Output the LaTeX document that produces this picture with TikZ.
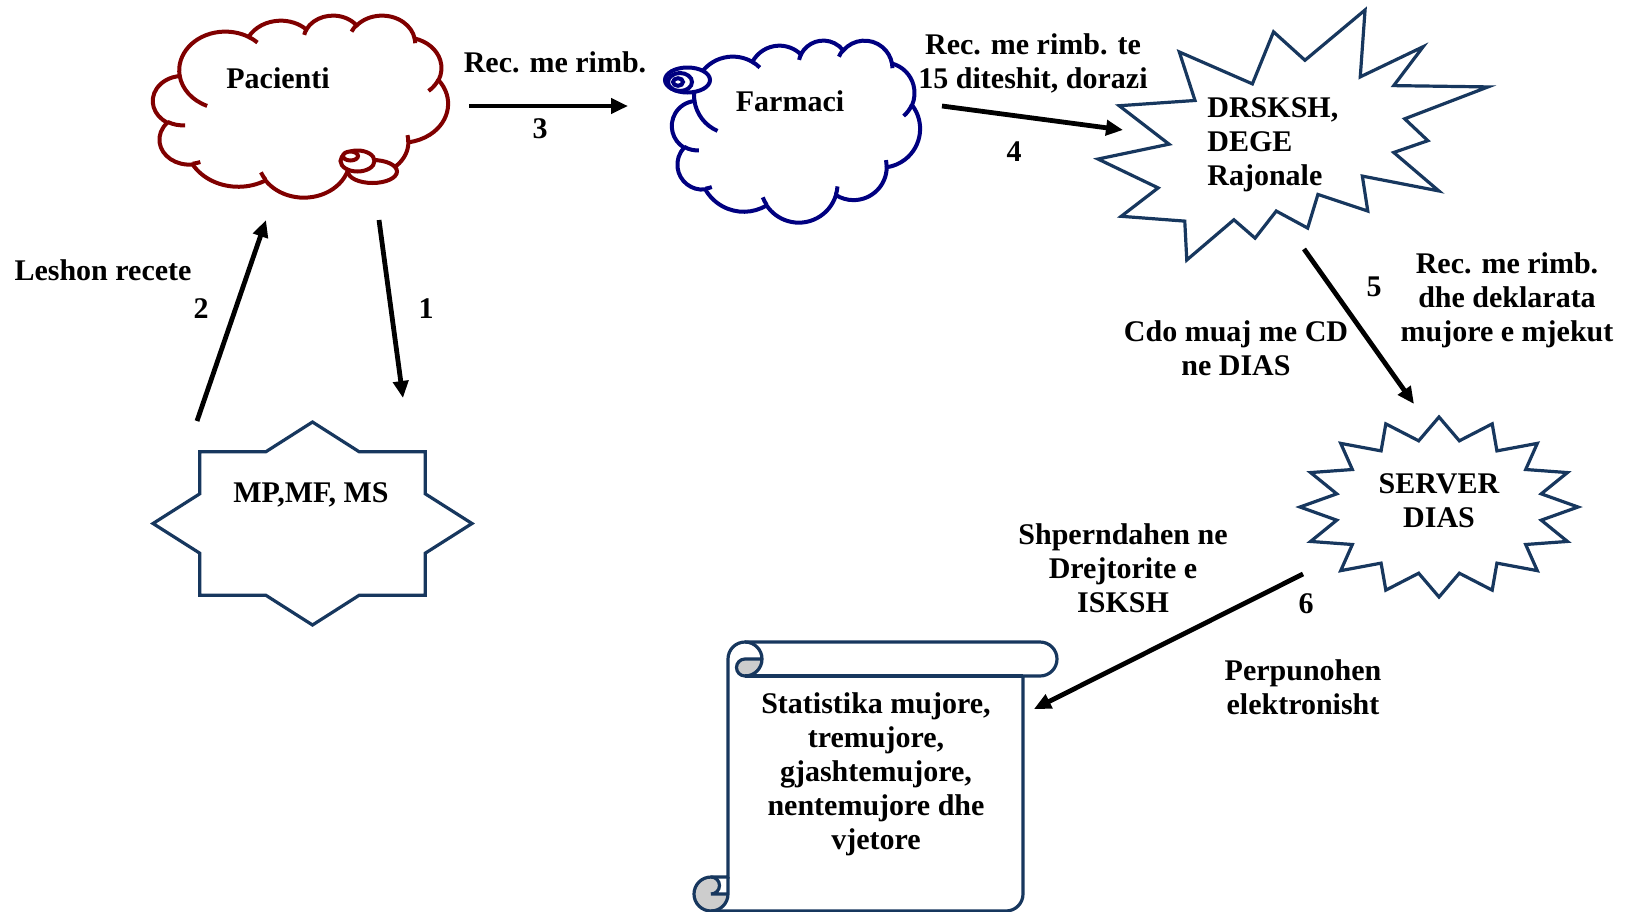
\documentclass[tikz,border=0pt]{standalone}
\usepackage{fontspec}
\setmainfont{Liberation Serif}
\usetikzlibrary{arrows.meta}

\definecolor{maroonline}{RGB}{128,0,0}
\definecolor{navyline}{RGB}{0,0,128}
\definecolor{shapeblue}{RGB}{23,55,94}
\definecolor{curlgray}{RGB}{205,205,205}

% elliptical arc given by radii, visual start angle and sweep (degrees), clockwise
\newcommand\oarc[4]{%
  \pgfextra{%
    \pgfmathsetmacro\oaS{atan2((#1)*sin(#3),(#2)*cos(#3))}%
    \pgfmathsetmacro\oaE{atan2((#1)*sin((#3)+(#4)),(#2)*cos((#3)+(#4)))}%
    \pgfmathsetmacro\oaD{Mod(\oaE-\oaS,360)}%
    \global\let\oaS\oaS\global\let\oaD\oaD}%
  arc[x radius=#1, y radius=#2, start angle=\oaS, delta angle=\oaD]}
% the same, counter-clockwise (#4 is the positive size of the sweep)
\newcommand\oarcback[4]{%
  \pgfextra{%
    \pgfmathsetmacro\oaS{atan2((#1)*sin(#3),(#2)*cos(#3))}%
    \pgfmathsetmacro\oaE{atan2((#1)*sin((#3)-(#4)),(#2)*cos((#3)-(#4)))}%
    \pgfmathsetmacro\oaD{-Mod(\oaS-\oaE,360)}%
    \global\let\oaS\oaS\global\let\oaD\oaD}%
  arc[x radius=#1, y radius=#2, start angle=\oaS, delta angle=\oaD]}

% cloud outline in a 432 x 432 box: #1,#2 top-left corner, #3,#4 units, #5 style
\newcommand\cloudshape[5]{%
  \begin{scope}[shift={(#1,#2)}]
  \begin{scope}[x=#3pt,y=-#4pt]
    \draw[#5,fill=white] (39,143.7)
      \oarc{67.53}{91.90}{-190.4875}{123.7805}
      \oarc{53.33}{72.67}{-144.1024}{89.9452}
      \oarc{43.65}{59.45}{-145.8079}{99.7230}
      \oarc{48.57}{65.95}{-130.9861}{117.2417}
      \oarc{53.33}{72.73}{-78.7089}{109.0269}
      \oarc{67.75}{92.20}{-46.2673}{130.2690}
      \oarc{57.85}{78.67}{0.6250}{114.0333}
      \oarc{67.52}{92.15}{22.4516}{115.1726}
      \oarc{77.20}{105.43}{66.2426}{75.7110}
      \oarc{43.60}{59.18}{-274.9421}{146.7356}
      \oarc{43.45}{59.45}{-246.8285}{152.5186}
      -- cycle;
    % short inner curls where the puffs meet
    \draw[#5]
      (46.93,261.77) \oarc{43.45}{59.45}{86.7420}{26.4295}
      (69.28,348.99) \oarc{43.60}{59.18}{73.6105}{11.4475}
      (164.78,390.90) \oarc{67.52}{92.15}{137.6242}{14.0811}
      (288.27,347.51) \oarc{67.52}{92.15}{6.4533}{15.9984}
      (372.7,285.05) \oarc{57.85}{78.67}{-15}{15.625}
      (417.98,153.54) \oarc{53.33}{72.73}{30.3180}{27.7515}
      (383.24,54.26) \oarc{48.57}{65.95}{-13.7443}{14.8589}
      (290.78,39.52) \oarc{48.57}{65.95}{-149.1815}{18.1954}
      (221.41,47.20) \oarc{43.65}{59.45}{-163.4943}{17.6864}
      (140.00,51.92) \oarc{67.53}{91.90}{-66.7070}{12.3194}
      (39,143.7) \oarcback{67.53}{91.90}{169.5125}{62};
  \end{scope}
  \end{scope}}

\begin{document}
\begin{tikzpicture}[x=0.5pt,y=-0.5pt,
  lbl/.style={font=\bfseries\fontsize{15pt}{17pt}\selectfont, inner sep=0pt},
  flow/.style={line width=2.4pt, -{Triangle[length=8.5pt,width=7.5pt]}},
  pacline/.style={draw=maroonline, line width=2pt},
  farline/.style={draw=navyline, line width=2pt},
  sealline/.style={draw=shapeblue, line width=1.6pt, fill=white, line join=miter},
  scrollline/.style={draw=shapeblue, line width=1.6pt},
]
\useasboundingbox (0,0) rectangle (1627,911);
\clip (0,0) rectangle (1627,911);

% ---------- Pacienti cloud with its bubbles
\cloudshape{153}{15}{0.341435}{0.210648}{pacline}
\draw[pacline,fill=white] (372.5,171.5) ellipse[x radius=24.5, y radius=11.5];
\draw[pacline,fill=white] (357.5,161) ellipse[x radius=17, y radius=10.5];
\draw[pacline,fill=white] (350.5,156) ellipse[x radius=7.5, y radius=4.5];

% ---------- Farmaci cloud with its bubbles
\cloudshape{672}{40}{0.287037}{0.210648}{farline}
\draw[farline,fill=white] (687.5,80) ellipse[x radius=22.5, y radius=12.5];
\draw[farline,fill=white] (680,82) ellipse[x radius=12, y radius=9];
\draw[farline,fill=white] (678,82) ellipse[x radius=5, y radius=3.8];

% ---------- explosion (DRSKSH)
\begin{scope}[shift={(1098,10)}]
\begin{scope}[x=0.902778pt,y=-0.578704pt]
\draw[sealline] (114.62,43.42) -- (147.90,0) -- (145.25,57.77) -- (180.07,31.72)
  -- (163.80,65.32) -- (216,66.45) -- (169.85,94.02) -- (182.70,112.90)
  -- (163.80,123.10) -- (188.77,156.32) -- (146.40,143.50) -- (149.42,173.70)
  -- (121.80,159.35) -- (116.12,188.42) -- (98.72,173.70) -- (87.00,197.12)
  -- (75.27,181.25) -- (49.17,216) -- (48.05,182.40) -- (12.85,178.25)
  -- (33.30,153.70) -- (0,128.77) -- (39.35,115.92) -- (11.72,82.70)
  -- (53.72,78.17) -- (45.02,36.25) -- (85.50,63.82) -- (97.22,18.87) -- cycle;
\end{scope}
\end{scope}

% ---------- eight-point star (MP, MF, MS)
\draw[sealline] plot[variable=\i, samples at={0,...,15}]
  ({312.5+159.5*(1-0.235*mod(\i,2))*cos(22.5*\i)},
   {523.5+101.5*(1-0.235*mod(\i,2))*sin(22.5*\i)}) -- cycle;

% ---------- sixteen-point star (SERVER DIAS)
\draw[sealline] plot[variable=\i, samples at={0,...,31}]
  ({1439+139*(1-0.25*mod(\i,2))*cos(11.25*\i)},
   {507+90*(1-0.25*mod(\i,2))*sin(11.25*\i)}) -- cycle;

% ---------- vertical scroll
\fill[white] (728,877) -- (728,659) arc[start angle=180, delta angle=90, radius=17]
  -- (1040,642) arc[start angle=270, delta angle=180, radius=17]
  -- (1023,676) -- (1023,894) arc[start angle=0, delta angle=90, radius=17]
  -- (711,911) arc[start angle=90, delta angle=180, radius=17] -- cycle;
\fill[curlgray] (762,659) arc[start angle=0, delta angle=90, radius=17]
  arc[start angle=90, delta angle=180, radius=8.5] -- cycle;
\fill[curlgray] (728,894) arc[start angle=0, delta angle=270, radius=17]
  arc[start angle=270, delta angle=180, radius=8.5] -- cycle;
\draw[scrollline] (728,877) -- (728,659) arc[start angle=180, delta angle=90, radius=17]
  -- (1040,642) arc[start angle=270, delta angle=180, radius=17]
  -- (1023,676) -- (1023,894) arc[start angle=0, delta angle=90, radius=17]
  -- (711,911) arc[start angle=90, delta angle=180, radius=17] -- cycle;
\draw[scrollline] (745,642) arc[start angle=270, delta angle=180, radius=17]
  arc[start angle=90, delta angle=180, radius=8.5] -- (762,659);
\draw[scrollline] (1023,676) -- (745,676);
\draw[scrollline] (711,877) arc[start angle=270, delta angle=180, radius=8.5] -- (728,894);
\draw[scrollline] (711,911) arc[start angle=90, delta angle=-90, radius=17] -- (728,877);

% ---------- texts inside the shapes
\node[lbl, anchor=base] (pac) at (278,88) {Pacienti};
\node[lbl, anchor=base] (far) at (790,111) {Farmaci};
\node[lbl, anchor=north west, align=left] (drs) at (1207,97) {DRSKSH,\\DEGE\\Rajonale};
\node[lbl, anchor=base] (mp) at (311,502) {MP,MF, MS};
\node[lbl, anchor=north, align=center] (srv) at (1439,473) {SERVER\\DIAS};
\node[lbl, anchor=north, align=center] (stat) at (876,692)
  {Statistika mujore,\\tremujore,\\gjashtemujore,\\nentemujore dhe\\vjetore};

% ---------- labels
\node[lbl, anchor=base] (l3) at (555,72) {Rec. me rimb.};
\node[lbl, anchor=base] (n3) at (540,138) {3};
\node[lbl, anchor=north, align=center] (l4) at (1033,33) {Rec. me rimb. te\\15 diteshit, dorazi};
\node[lbl, anchor=base] (n4) at (1014,161) {4};
\node[lbl, anchor=base] (n1) at (426,318) {1};
\node[lbl, anchor=base] (n2) at (201,318) {2};
\node[lbl, anchor=base] (l2) at (103,280) {Leshon recete};
\node[lbl, anchor=base] (n5) at (1374,296) {5};
\node[lbl, anchor=north, align=center] (l5a) at (1507,252) {Rec. me rimb.\\dhe deklarata\\mujore e mjekut};
\node[lbl, anchor=north, align=center] (l5b) at (1236,320) {Cdo muaj me CD\\ne DIAS};
\node[lbl, anchor=base] (n6) at (1306,613) {6};
\node[lbl, anchor=north, align=center] (l6a) at (1123,523) {Shperndahen ne\\Drejtorite e\\ISKSH};
\node[lbl, anchor=north, align=center] (l6b) at (1303,659) {Perpunohen\\elektronisht};

% ---------- arrow end points
\coordinate (a3s) at (469,106);  \coordinate (a3e) at (628,106);
\coordinate (a4s) at (942,106);  \coordinate (a4e) at (1123,130);
\coordinate (a1s) at (379,220);  \coordinate (a1e) at (403,398);
\coordinate (a2s) at (197,421);  \coordinate (a2e) at (266,220);
\coordinate (a5s) at (1304,249); \coordinate (a5e) at (1414,404);
\coordinate (a6s) at (1303,574); \coordinate (a6e) at (1034,709);

\draw[flow] (a3s) -- (a3e);
\draw[flow] (a4s) -- (a4e);
\draw[flow] (a1s) -- (a1e);
\draw[flow] (a2s) -- (a2e);
\draw[flow] (a5s) -- (a5e);
\draw[flow] (a6s) -- (a6e);
\end{tikzpicture}
\end{document}
